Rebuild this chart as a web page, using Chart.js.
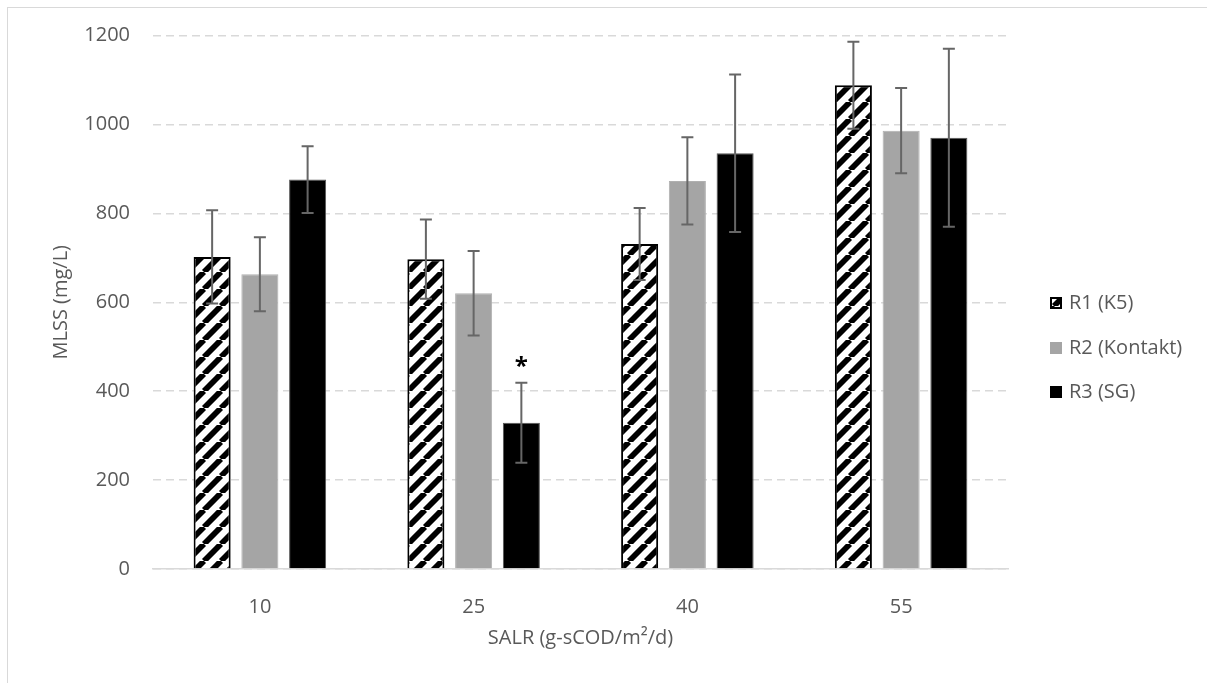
<!DOCTYPE html>
<html>
<head>
<meta charset="utf-8">
<script src="https://cdn.jsdelivr.net/npm/chart.js@4.4.1/dist/chart.umd.min.js"></script>
<style>
  html, body { margin: 0; padding: 0; background: #fff; overflow: hidden; }
  #frame { position: absolute; left: 7px; top: 7px; width: 1220px; height: 700px; border: 1.5px solid #d9d9d9; }
  #c { position: absolute; left: 0; top: 0; }
</style>
</head>
<body>
<div id="frame"></div>
<canvas id="c" width="1207" height="683"></canvas>
<script>
// ── data ─────────────────────────────────────────────
const categories = ['10', '25', '40', '55'];
const seriesNames = ['R1 (K5)', 'R2 (Kontakt)', 'R3 (SG)'];
const r1Values = [702, 697, 731, 1088];
const r1Errors = [105, 89, 81, 98];
const r2Values = [663, 620, 873, 986];
const r2Errors = [83, 95, 98, 96];
const r3Values = [876, 329, 935, 970];
const r3Errors = [75, 90, 177, 200];
const yTicks = [0, 200, 400, 600, 800, 1000, 1200];
const markSeries = 2, markIndex = 1, markText = '*';

const TEXT = '#595959';
const FONT = 'Open Sans';

// hatch fill for R1: "/" stripes
function hatchPattern() {
  const s = 17;
  const cv = document.createElement('canvas');
  cv.width = s; cv.height = s;
  const g = cv.getContext('2d');
  g.fillStyle = '#fff';
  g.fillRect(0, 0, s, s);
  g.strokeStyle = '#000';
  g.lineWidth = 5.8;
  for (const k of [-s, 0, s]) {
    g.beginPath();
    g.moveTo(k, s);
    g.lineTo(k + s, 0);
    g.stroke();
  }
  return g.createPattern(cv, 'repeat');
}
const hatch = hatchPattern();

const errors = [r1Errors, r2Errors, r3Errors];

const errorBars = {
  id: 'errorBars',
  afterDatasetsDraw(chart) {
    const ctx = chart.ctx;
    const y = chart.scales.y;
    ctx.save();
    ctx.strokeStyle = '#666';
    ctx.lineWidth = 2;
    chart.data.datasets.forEach((ds, i) => {
      const meta = chart.getDatasetMeta(i);
      meta.data.forEach((bar, j) => {
        const v = ds.data[j], e = errors[i][j];
        const yt = y.getPixelForValue(v + e);
        const yb = y.getPixelForValue(v - e);
        ctx.beginPath();
        ctx.moveTo(bar.x, yt); ctx.lineTo(bar.x, yb);
        ctx.moveTo(bar.x - 6, yt); ctx.lineTo(bar.x + 6, yt);
        ctx.moveTo(bar.x - 6, yb); ctx.lineTo(bar.x + 6, yb);
        ctx.stroke();
      });
    });
    // significance mark
    const bar = chart.getDatasetMeta(markSeries).data[markIndex];
    const top = y.getPixelForValue(chart.data.datasets[markSeries].data[markIndex] + errors[markSeries][markIndex]);
    ctx.fillStyle = '#000';
    ctx.font = 'bold 24px "' + FONT + '"';
    ctx.textAlign = 'center';
    ctx.textBaseline = 'middle';
    ctx.fillText(markText, bar.x, top - 16);
    ctx.restore();
  }
};

// legend drawn at right of the plot
const sideLegend = {
  id: 'sideLegend',
  afterDraw(chart) {
    const ctx = chart.ctx;
    const x0 = chart.chartArea.right + 42;
    const rows = [303, 348, 392];
    ctx.save();
    ctx.font = '20px "' + FONT + '"';
    ctx.textBaseline = 'middle';
    ctx.textAlign = 'left';
    chart.data.datasets.forEach((ds, i) => {
      const yy = rows[i];
      ctx.fillStyle = ds.backgroundColor;
      ctx.fillRect(x0, yy - 6, 12, 12);
      if (i === 0) {
        ctx.strokeStyle = '#000'; ctx.lineWidth = 2;
        ctx.strokeRect(x0 + 1, yy - 5, 10, 10);
      }
      ctx.fillStyle = TEXT;
      ctx.fillText(ds.label, x0 + 19, yy);
    });
    ctx.restore();
  }
};

new Chart(document.getElementById('c'), {
  type: 'bar',
  data: {
    labels: categories,
    datasets: [
      { label: seriesNames[0], data: r1Values, backgroundColor: hatch, borderColor: '#000', borderWidth: 2 },
      { label: seriesNames[1], data: r2Values, backgroundColor: '#a5a5a5', borderColor: '#b0b0b0', borderWidth: 1 },
      { label: seriesNames[2], data: r3Values, backgroundColor: '#000', borderColor: '#555', borderWidth: 1 }
    ]
  },
  options: {
    responsive: false,
    animation: false,
    events: [],
    categoryPercentage: 0.67,
    barPercentage: 0.776,
    layout: { padding: { top: 35.5, right: 199, bottom: 0, left: 0 } },
    plugins: { legend: { display: false }, tooltip: { enabled: false } },
    scales: {
      x: {
        grid: { display: false },
        border: { display: true, color: '#d9d9d9', width: 1.5 },
        ticks: { color: TEXT, font: { family: FONT, size: 20 }, padding: 18 },
        title: { display: true, text: 'SALR (g-sCOD/m²/d)', color: TEXT, font: { family: FONT, size: 20 }, padding: { top: 0, bottom: 33 } },
        afterFit(s) { s.height = 114; }
      },
      y: {
        min: 0, max: 1200,
        afterBuildTicks(s) { s.ticks = yTicks.map(v => ({ value: v })); },
        grid: { color: '#d9d9d9', lineWidth: 1.5, drawTicks: false },
        border: { display: false, dash: [8, 5] },
        ticks: { color: TEXT, font: { family: FONT, size: 20 }, padding: 23, callback: v => String(v) },
        title: { display: true, text: 'MLSS (mg/L)', color: TEXT, font: { family: FONT, size: 20 }, padding: { top: 49, bottom: 0 } },
        afterFit(s) { s.width = 153; }
      }
    }
  },
  plugins: [errorBars, sideLegend]
});
</script>
</body>
</html>
